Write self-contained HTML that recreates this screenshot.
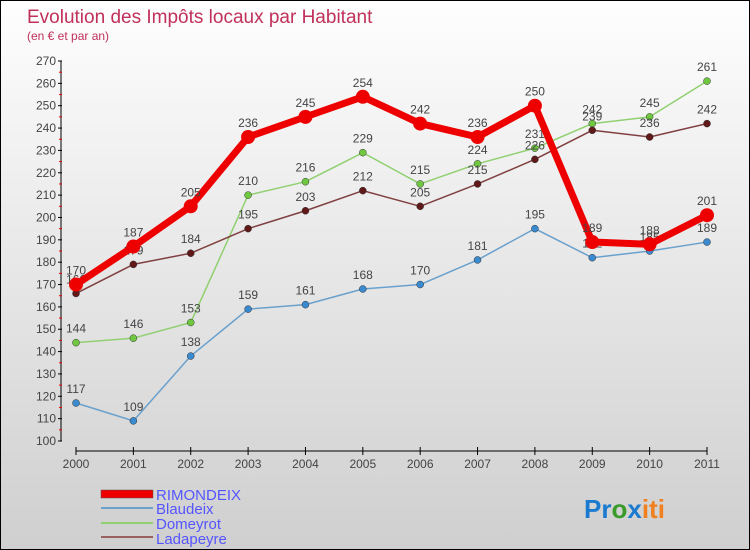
<!DOCTYPE html>
<html><head><meta charset="utf-8"><style>
body{margin:0}
#c{width:750px;height:550px;position:relative;background:linear-gradient(#fefefe,#cfcfcf);border:1px solid #000;box-sizing:border-box;overflow:hidden;font-family:"Liberation Sans",sans-serif}
</style></head><body>
<div id="c">
<svg id="s" width="750" height="550" style="position:absolute;left:0;top:0">
<text x="26" y="22" font-size="19" fill="#c0305a">Evolution des Impôts locaux par Habitant</text>
<text x="26" y="39" font-size="12" fill="#c0305a">(en € et par an)</text>
<g id="ax"></g><g id="series"></g>
<g>
<rect x="100" y="489" width="52" height="8" fill="#e00" stroke="#555" stroke-width="0.5"/>
<text x="155" y="499" font-size="15" fill="#5555ff">RIMONDEIX</text>
<line x1="100" y1="507" x2="152" y2="507" stroke="#6aa0cc" stroke-width="2"/>
<text x="155" y="513" font-size="15" fill="#5555ff">Blaudeix</text>
<line x1="100" y1="522" x2="152" y2="522" stroke="#90d070" stroke-width="2"/>
<text x="155" y="528" font-size="15" fill="#5555ff">Domeyrot</text>
<line x1="100" y1="536" x2="152" y2="536" stroke="#9a6060" stroke-width="2"/>
<text x="155" y="543" font-size="15" fill="#5555ff">Ladapeyre</text>
</g>
<text x="583" y="517" font-size="26" font-weight="bold"><tspan fill="#1a7ad0">Pr</tspan><tspan fill="#3a9a2a">o</tspan><tspan fill="#1a7ad0">x</tspan><tspan fill="#f08020">iti</tspan></text>
</svg>
</div>
<script>
const years=["2000","2001","2002","2003","2004","2005","2006","2007","2008","2009","2010","2011"];
const yTicks=[100,110,120,130,140,150,160,170,180,190,200,210,220,230,240,250,260,270];
const rimondeix=[170,187,205,236,245,254,242,236,250,189,188,201];
const blaudeix=[117,109,138,159,161,168,170,181,195,182,185,189];
const domeyrot=[144,146,153,210,216,229,215,224,231,242,245,261];
const ladapeyre=[166,179,184,195,203,212,205,215,226,239,236,242];
const NS="http://www.w3.org/2000/svg";
const X=i=>75+i*(631/11);
const Y=v=>440-(v-100)*(380/170);
function mk(t,a,p){const e=document.createElementNS(NS,t);for(const k in a)e.setAttribute(k,a[k]);p.appendChild(e);return e;}
const ax=document.getElementById('ax');
mk('line',{x1:60,y1:Y(270),x2:60,y2:Y(100),stroke:'#000'},ax);
mk('line',{x1:75,y1:450,x2:706,y2:450,stroke:'#000'},ax);
yTicks.forEach(v=>{
 mk('line',{x1:57,y1:Y(v),x2:61,y2:Y(v),stroke:'#000'},ax);
 if(v<270)mk('line',{x1:58,y1:Y(v+5),x2:61,y2:Y(v+5),stroke:'#e00'},ax);
 const t=mk('text',{x:55,y:Y(v)+4,'font-size':12,fill:'#444','text-anchor':'end'},ax);
 t.textContent=v;
 
 
});
years.forEach((y,i)=>{
 mk('line',{x1:X(i),y1:446,x2:X(i),y2:454,stroke:'#000'},ax);
 const t=mk('text',{x:X(i),y:467,'font-size':12,fill:'#444','text-anchor':'middle'},ax);
 t.textContent=y;
 
 
});
const sg=document.getElementById('series');
function series(d,name,col,w,r,dot){
 const g=mk('g',{},sg);
 
 
 mk('polyline',{points:d.map((v,i)=>X(i)+','+Y(v)).join(' '),fill:'none',stroke:col,'stroke-width':w,'stroke-linejoin':'round'},g);
 d.forEach((v,i)=>{
  const c=mk('circle',{cx:X(i),cy:Y(v),r:r,fill:dot,stroke:'#333','stroke-width':r>5?0:0.5},g);
  
  
  const t=mk('text',{x:X(i),y:Y(v)-10,'font-size':12,fill:'#444','text-anchor':'middle'},g);
  t.textContent=v;
  
  
 });
}
series(blaudeix,'blaudeix','#6aa0cc',1.5,3.5,'#3a8ad0');
series(domeyrot,'domeyrot','#90d070',1.5,3.5,'#70c840');
series(ladapeyre,'ladapeyre','#804040',1.5,3.5,'#601818');
series(rimondeix,'rimondeix','#ee0000',7,7,'#ee0000');
</script>
</body></html>
